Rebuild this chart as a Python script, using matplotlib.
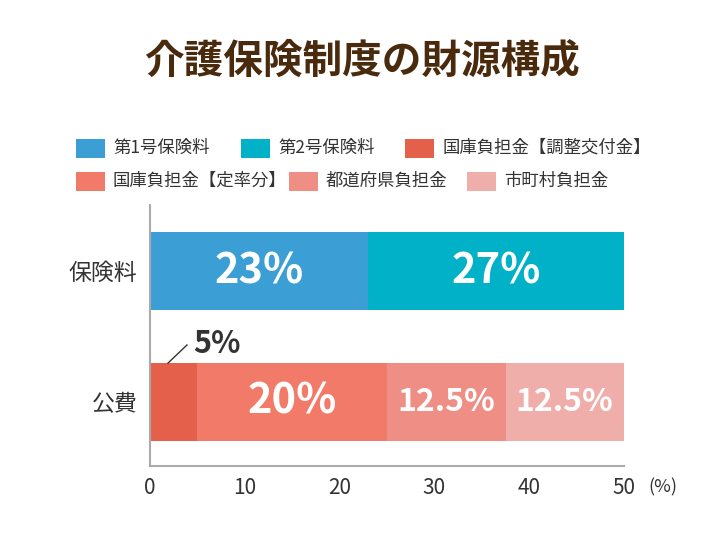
import matplotlib.pyplot as plt
from matplotlib.patches import Rectangle

plt.rcParams['font.family'] = ['Noto Sans CJK JP', 'DejaVu Sans']

# データ
categories = ['公費', '保険料']
series_labels = ['第1号保険料', '第2号保険料', '国庫負担金【調整交付金】',
                 '国庫負担金【定率分】', '都道府県負担金', '市町村負担金']
series_colors = ['#3B9FD6', '#00B1C7', '#E5604A', '#F27A69', '#EE8E85', '#F0AEAA']
# 各系列: (カテゴリ, 値)
series_cat = [1, 1, 0, 0, 0, 0]
series_values = [23, 27, 5, 20, 12.5, 12.5]
bar_text = ['23%', '27%', '', '20%', '12.5%', '12.5%']
bar_text_size = [30, 30, 0, 30, 23, 23]
x_ticks = [0, 10, 20, 30, 40, 50]

fig = plt.figure(figsize=(7.26, 5.48), dpi=100)
W, H = 726, 548
ax = fig.add_axes([150 / W, 1 - 466 / H, 474 / W, 261 / H])

left = [0.0, 0.0]
for i, v in enumerate(series_values):
    c = series_cat[i]
    ax.barh(c, v, left=left[c], height=0.595, color=series_colors[i], linewidth=0)
    if bar_text[i]:
        ax.text(left[c] + v / 2, c, bar_text[i], ha='center', va='center',
                color='white', fontsize=bar_text_size[i], fontweight='bold')
    left[c] += v

# 5% の注記
ax.plot([1.9, 3.9], [0.297, 0.435], color='#333333', lw=1)
ax.text(4.6, 0.44, '5%', fontsize=22, fontweight='bold', color='#333333',
        ha='left', va='center')

ax.set_xlim(0, 50)
ax.set_ylim(-0.489, 1.504)
ax.set_xticks(x_ticks)
ax.set_xticklabels([str(t) for t in x_ticks], fontsize=15, color='#333333')
ax.set_yticks([0, 1])
ax.set_yticklabels(categories, fontsize=16.5, color='#333333')
ax.tick_params(length=0)
ax.tick_params(axis='x', pad=8)
ax.tick_params(axis='y', pad=9)
for s in ['top', 'right']:
    ax.spines[s].set_visible(False)
for s in ['left', 'bottom']:
    ax.spines[s].set_color('#AAAAAA')
    ax.spines[s].set_linewidth(1.5)

fig.text(648 / W, 1 - 487 / H, '(%)', fontsize=13, color='#333333', ha='left', va='center')

# タイトル
fig.text(362 / W, 1 - 61 / H, '介護保険制度の財源構成', fontsize=28.5, fontweight='bold',
         color='#4A2A0C', ha='center', va='center')

# 凡例
legend_pos = [(76, 148), (241, 148), (405, 148), (76, 181), (289, 181), (467, 181)]
for (px, py), lab, col in zip(legend_pos, series_labels, series_colors):
    fig.patches.append(Rectangle((px / W, 1 - (py + 9.5) / H), 29 / W, 19 / H,
                                 transform=fig.transFigure, color=col, linewidth=0))
    fig.text((px + 37) / W, 1 - py / H, lab, fontsize=12.5, color='#333333',
             ha='left', va='center')

fig.savefig('out.png', dpi=100)
